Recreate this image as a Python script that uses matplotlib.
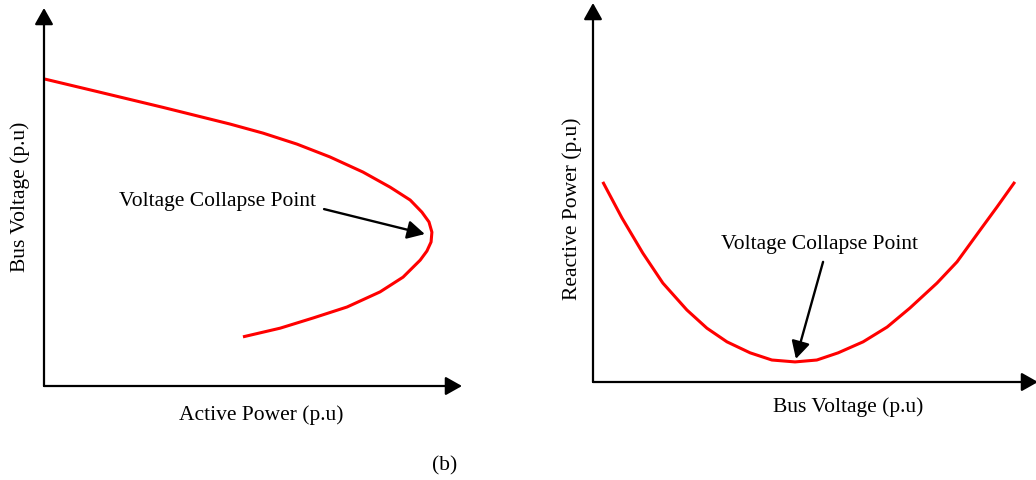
import matplotlib
matplotlib.use("Agg")
import matplotlib.pyplot as plt
from matplotlib.patches import ArrowStyle

plt.rcParams["font.family"] = ["Liberation Serif", "DejaVu Serif"]

# P-V curve (nose curve): active power vs bus voltage, normalised units
pv_active_power = [0.002, 0.127, 0.285, 0.445, 0.524, 0.605, 0.684, 0.763, 0.828, 0.876, 0.904,
                   0.921, 0.928, 0.926, 0.916, 0.900, 0.859, 0.804, 0.725, 0.644, 0.565, 0.476]
pv_bus_voltage = [0.812, 0.779, 0.737, 0.693, 0.669, 0.640, 0.606, 0.566, 0.526, 0.492, 0.460,
                  0.434, 0.407, 0.381, 0.357, 0.333, 0.288, 0.249, 0.209, 0.180, 0.153, 0.130]
pv_collapse = (0.911, 0.402)

# Q-V curve: bus voltage vs reactive power, normalised units
qv_bus_voltage = [0.022, 0.065, 0.112, 0.157, 0.211, 0.256, 0.301, 0.353, 0.402, 0.454,
                  0.503, 0.551, 0.607, 0.661, 0.712, 0.773, 0.818, 0.870, 0.908, 0.948]
qv_reactive_power = [0.528, 0.433, 0.340, 0.261, 0.190, 0.142, 0.106, 0.077, 0.058, 0.053,
                     0.058, 0.077, 0.106, 0.145, 0.195, 0.261, 0.317, 0.401, 0.462, 0.528]
qv_collapse = (0.456, 0.061)

annotation_text = "Voltage Collapse Point"
pv_labels = ("Active Power (p.u)", "Bus Voltage (p.u)")
qv_labels = ("Bus Voltage (p.u)", "Reactive Power (p.u)")
panel_tag = "(b)"

W, H = 1036, 480
fig = plt.figure(figsize=(W / 100, H / 100), dpi=100)

FS = 15.5
CURVE = dict(color="#ff0000", lw=2.2, solid_joinstyle="round", solid_capstyle="butt")
axis_head = ArrowStyle("-|>", head_length=0.8, head_width=0.45)
ann_head = ArrowStyle("-|>", head_length=0.75, head_width=0.4)


def px_axes(x0, y0, x1, y1):
    """Axes whose lower-left corner sits at pixel (x0, y0) and upper-right at (x1, y1), y measured from top."""
    return fig.add_axes([x0 / W, (H - y0) / H, (x1 - x0) / W, (y0 - y1) / H])


def arrow_axes(ax):
    ax.set_xlim(0, 1)
    ax.set_ylim(0, 1)
    ax.set_xticks([])
    ax.set_yticks([])
    for s in ax.spines.values():
        s.set_visible(False)
    for end in [(1, 0), (0, 1)]:
        ax.annotate("", xy=end, xytext=(0, 0), xycoords="axes fraction",
                    textcoords="axes fraction", annotation_clip=False,
                    arrowprops=dict(arrowstyle=axis_head, mutation_scale=12.5,
                                    color="black", lw=1.6, shrinkA=0, shrinkB=0))


# Left panel: P-V curve
ax1 = px_axes(44, 386, 462, 8)
arrow_axes(ax1)
ax1.plot(pv_active_power, pv_bus_voltage, **CURVE)
ax1.annotate("", xy=pv_collapse, xytext=(0.670, 0.468),
             arrowprops=dict(arrowstyle=ann_head, mutation_scale=14,
                             color="black", lw=1.7, shrinkA=0, shrinkB=0))
ax1.text(0.414, 0.487, annotation_text, ha="center", va="center", fontsize=FS)
ax1.set_xlabel(pv_labels[0], fontsize=FS, va="center")
ax1.xaxis.set_label_coords(0.519, -0.077)
ax1.set_ylabel(pv_labels[1], fontsize=FS, va="center")
ax1.yaxis.set_label_coords(-0.057, 0.5)

# Right panel: Q-V curve
ax2 = px_axes(593, 382, 1038, 3)
arrow_axes(ax2)
ax2.plot(qv_bus_voltage, qv_reactive_power, **CURVE)
ax2.annotate("", xy=qv_collapse, xytext=(0.517, 0.317),
             arrowprops=dict(arrowstyle=ann_head, mutation_scale=14,
                             color="black", lw=1.7, shrinkA=0, shrinkB=0))
ax2.text(0.510, 0.364, annotation_text, ha="center", va="center", fontsize=FS)
ax2.set_xlabel(qv_labels[0], fontsize=FS, va="center")
ax2.xaxis.set_label_coords(0.573, -0.066)
ax2.set_ylabel(qv_labels[1], fontsize=FS, va="center")
ax2.yaxis.set_label_coords(-0.047, 0.456)

fig.text(445 / W, 1 - 466 / H, panel_tag, ha="center", va="center", fontsize=FS)

fig.savefig("out.png", dpi=100)
